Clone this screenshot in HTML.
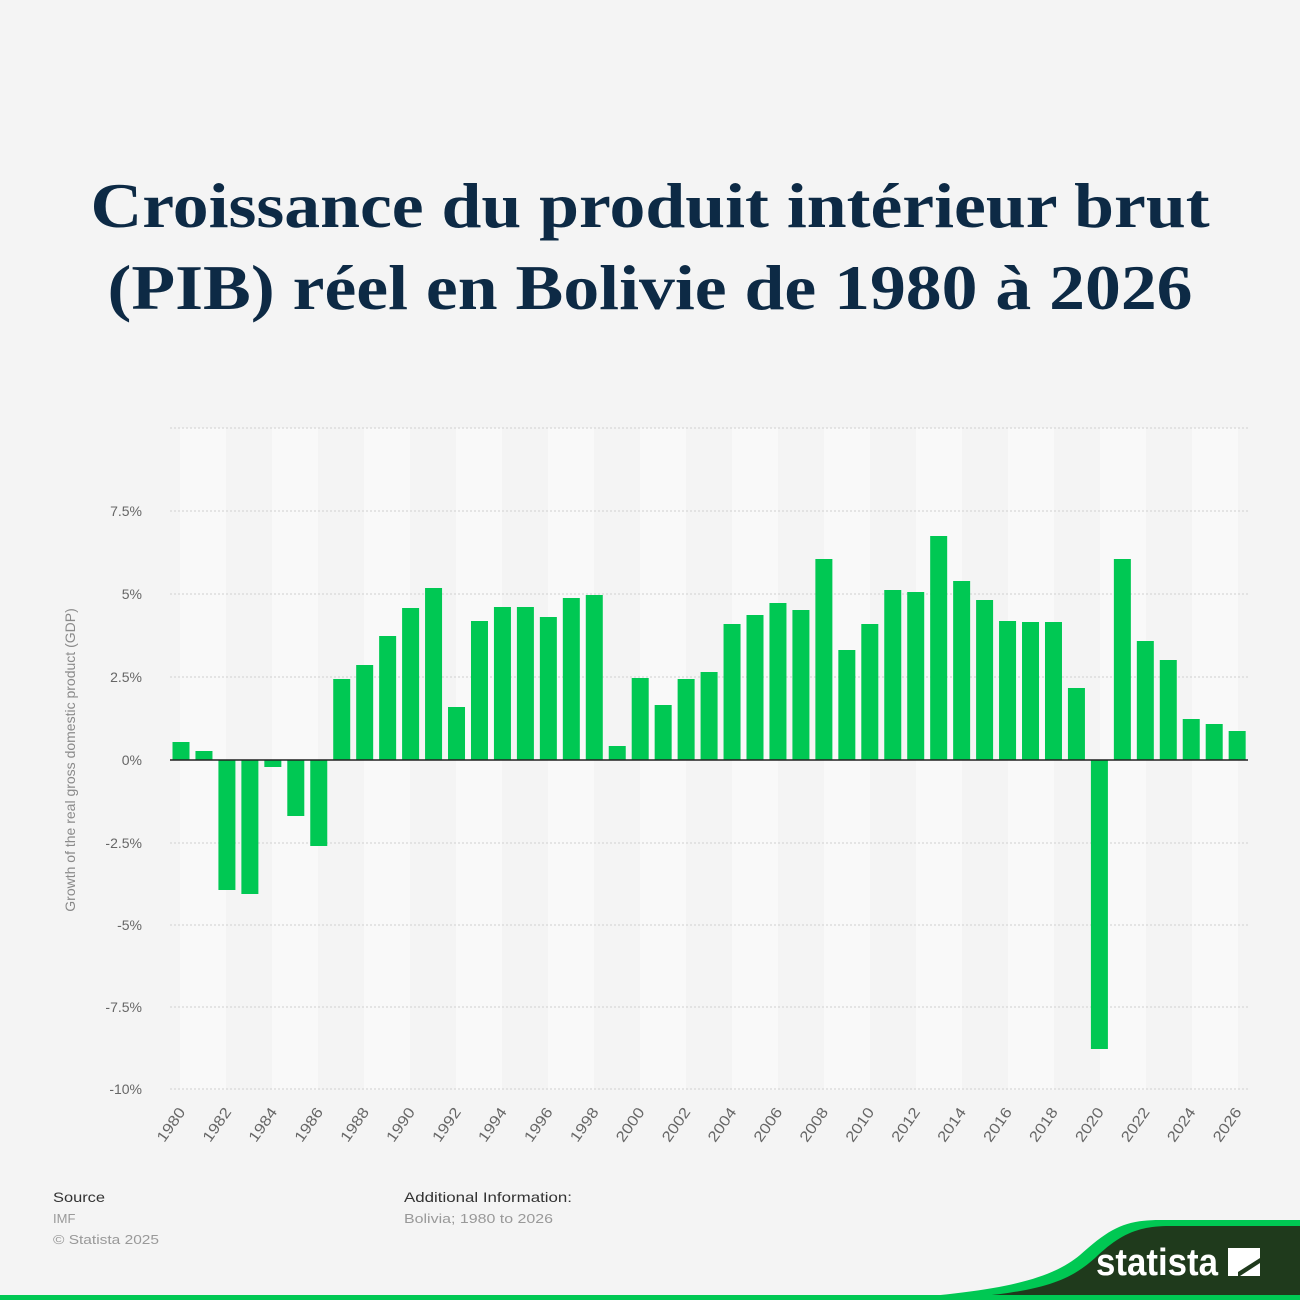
<!DOCTYPE html>
<html><head><meta charset="utf-8"><style>
body{margin:0;background:#f4f4f4;}
#w{position:relative;width:1300px;height:1300px;background:#f4f4f4;overflow:hidden;font-family:"Liberation Sans",sans-serif;}
h1{position:absolute;left:0;top:165px;width:1300px;margin:0;text-align:center;font-family:"Liberation Serif",serif;font-weight:bold;font-size:64px;line-height:82px;color:#0d2a45;transform:scaleX(1.12);transform-origin:650px 0;}
</style></head><body><div id="w">
<h1>Croissance du produit intérieur brut<br>(PIB) réel en Bolivie de 1980 à 2026</h1>
<svg width="1300" height="1300" style="position:absolute;left:0;top:0">
<g id="bands"></g><g id="grid"></g><g id="bars"></g><g id="lab"></g>
<text transform="translate(75,760) rotate(-90)" text-anchor="middle" font-size="14" fill="#8a8a8a" font-family="Liberation Sans">Growth of the real gross domestic product (GDP)</text>
<text x="53" y="1202" font-size="14" fill="#333" font-family="Liberation Sans" textLength="52" lengthAdjust="spacingAndGlyphs">Source</text>
<text x="53" y="1223" font-size="13" fill="#999" font-family="Liberation Sans">IMF</text>
<text x="53" y="1244" font-size="13" fill="#999" font-family="Liberation Sans" textLength="106" lengthAdjust="spacingAndGlyphs">© Statista 2025</text>
<text x="404" y="1202" font-size="14" fill="#333" font-family="Liberation Sans" textLength="168" lengthAdjust="spacingAndGlyphs">Additional Information:</text>
<text x="404" y="1223" font-size="13" fill="#999" font-family="Liberation Sans" textLength="149" lengthAdjust="spacingAndGlyphs">Bolivia; 1980 to 2026</text>
<path d="M880,1300 C1000,1292 1050,1280 1080,1255 C1110,1228 1125,1220 1160,1220 L1300,1220 L1300,1300 Z" fill="#00c853"/>
<path d="M930,1300 C1040,1294 1068,1282 1095,1258 C1120,1234 1138,1226 1170,1226 L1300,1226 L1300,1300 Z" fill="#1f3a1c"/>
<rect x="0" y="1295" width="1300" height="5" fill="#00c853"/>
<text x="1096" y="1275" font-size="38" font-weight="bold" fill="#fff" font-family="Liberation Sans" textLength="122" lengthAdjust="spacingAndGlyphs">statista</text>
<path d="M1228,1248 h32 v10 l-22,14 v4 h-10 z M1240,1276 l20,-13 v13 z" fill="#fff"/>
</svg>
<script>
var tops=[742,751,890,894,767,816,846,679,665,636,608,588,707,621,607,607,617,598,595,746,678,705,679,672,624,615,603,610,559,650,624,590,592,536,581,600,621,622,622,688,1049,559,641,660,719,724,731];
var ns="http://www.w3.org/2000/svg";
function el(p,t,a,tx){var e=document.createElementNS(ns,t);for(var k in a)e.setAttribute(k,a[k]);if(tx)e.textContent=tx;document.getElementById(p).appendChild(e);}
for(var k=0;k<12;k++){var x=180+92*k;el("bands","rect",{x:x,y:428,width:Math.min(46,1248-x),height:662,fill:"#f9f9f9"});}
var gl=[[428,""],[511,"7.5%"],[594,"5%"],[677,"2.5%"],[760,"0%"],[843,"-2.5%"],[925,"-5%"],[1007,"-7.5%"],[1089,"-10%"]];
gl.forEach(function(g){el("grid","line",{x1:170,x2:1248,y1:g[0],y2:g[0],stroke:"#cfcfcf","stroke-dasharray":"2,2"});if(g[1])el("grid","text",{x:142,y:g[0]+5,"text-anchor":"end","font-size":"14",fill:"#666","font-family":"Liberation Sans"},g[1]);});
tops.forEach(function(t,i){var c=181+22.96*i;var y=Math.min(t,760),h=Math.abs(t-760);el("bars","rect",{x:c-8.5,y:y,width:17,height:Math.max(h,1),fill:"#00c853"});
if(i%2==0){el("lab","text",{transform:"translate("+(c+5)+",1112) rotate(-55)","text-anchor":"end","font-size":"15",fill:"#666","font-family":"Liberation Sans",textLength:"38",lengthAdjust:"spacingAndGlyphs"},""+(1980+i));}});
el("bars","line",{x1:170,x2:1248,y1:760,y2:760,stroke:"#222","stroke-width":"1.5"});
</script>
</div></body></html>
